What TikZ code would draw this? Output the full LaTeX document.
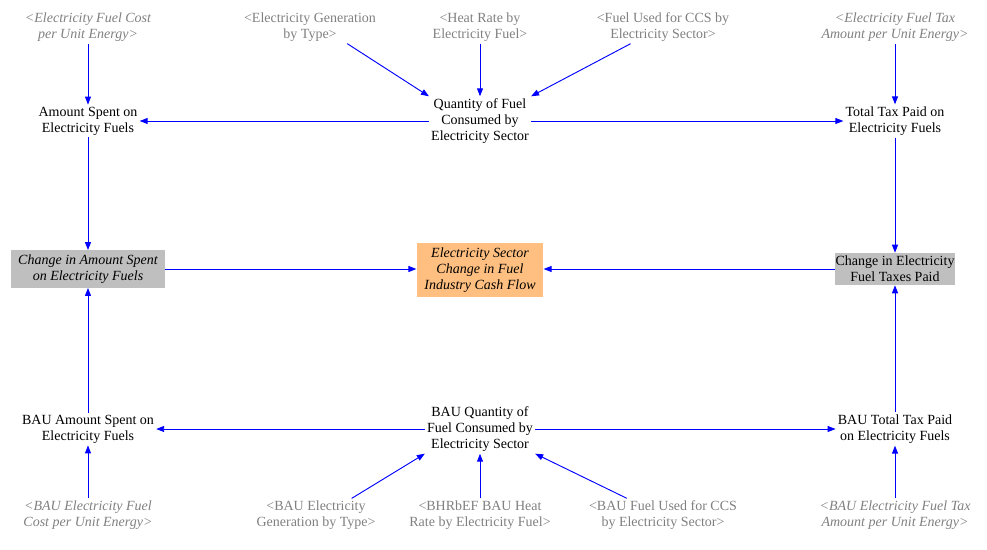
\documentclass[tikz,border=0pt]{standalone}
\usepackage{fontspec}
\setmainfont{Liberation Serif}
\usetikzlibrary{arrows.meta, positioning}

\begin{document}
\begin{tikzpicture}[x=0.75pt, y=-0.75pt,
    font=\fontsize{10.5}{12}\selectfont,
    var/.style={align=center, inner sep=1.5pt},
    shadow/.style={align=center, inner sep=1.5pt, text=black!50},
    box/.style={align=center, inner sep=0.5pt, fill=black!25},
    link/.style={-{Triangle[length=6pt, width=4.5pt]}, blue, line width=0.7pt}]
        \useasboundingbox (0,0) rectangle (987,549);

        % Nodes
        \node (ecost) [shadow, font=\fontsize{10.5}{12}\selectfont\itshape] at (88,27) {<Electricity Fuel Cost\\per Unit Energy>};
        \node (egen) [shadow] at (310,27) {<Electricity Generation\\by Type>};
        \node (hr) [shadow] at (480,27) {<Heat Rate by\\Electricity Fuel>};
        \node (ccs) [shadow] at (663,27) {<Fuel Used for CCS by\\Electricity Sector>};
        \node (etax) [shadow, font=\fontsize{10.5}{12}\selectfont\itshape] at (895,27) {<Electricity Fuel Tax\\Amount per Unit Energy>};

        \node (amt) [var] at (88,121) {Amount Spent on\\Electricity Fuels};
        \node (qty) [var] at (480,121) {Quantity of Fuel\\Consumed by\\Electricity Sector};
        \node (tax) [var] at (895,121) {Total Tax Paid on\\Electricity Fuels};

        \node (damt) [box, minimum width=115pt, minimum height=28pt, font=\fontsize{10.5}{12}\selectfont\itshape] at (88,269) {Change in Amount Spent\\on Electricity Fuels};
        \node (cash) [box, fill=orange!50, minimum width=95pt, minimum height=40pt, font=\fontsize{10.5}{12}\selectfont\itshape] at (480,270) {Electricity Sector\\Change in Fuel\\Industry Cash Flow};
        \node (dtax) [box, minimum width=87pt, minimum height=24pt] at (895,269) {Change in Electricity\\Fuel Taxes Paid};

        \node (bamt) [var] at (88,429) {BAU Amount Spent on\\Electricity Fuels};
        \node (bqty) [var] at (480,429) {BAU Quantity of\\Fuel Consumed by\\Electricity Sector};
        \node (btax) [var] at (895,429) {BAU Total Tax Paid\\on Electricity Fuels};

        \node (bcost) [shadow, font=\fontsize{10.5}{12}\selectfont\itshape] at (88,515) {<BAU Electricity Fuel\\Cost per Unit Energy>};
        \node (bgen) [shadow] at (316,515) {<BAU Electricity\\Generation by Type>};
        \node (bhr) [shadow] at (480,515) {<BHRbEF BAU Heat\\Rate by Electricity Fuel>};
        \node (bccs) [shadow] at (663,515) {<BAU Fuel Used for CCS\\by Electricity Sector>};
        \node (btaxu) [shadow, font=\fontsize{10.5}{12}\selectfont\itshape] at (895,515) {<BAU Electricity Fuel Tax\\Amount per Unit Energy>};

        % Edges
        \draw[link] (ecost) -- (amt);
        \draw[link] (etax) -- (tax);
        \draw[link] (egen.south east) ++(-31,0) -- (qty.north west);
        \draw[link] (hr) -- (qty);
        \draw[link] (ccs.south west) ++(36,0) -- (qty.north east);
        \draw[link] (qty) -- (amt);
        \draw[link] (qty) -- (tax);
        \draw[link] (amt) -- (damt);
        \draw[link] (tax) -- (dtax);
        \draw[link] (damt.east) -- (cash.west |- damt.east);
        \draw[link] (dtax.west) -- (cash.east |- dtax.west);
        \draw[link] (bamt) -- (damt);
        \draw[link] (btax) -- (dtax);
        \draw[link] (bqty) -- (bamt);
        \draw[link] (bqty) -- (btax);
        \draw[link] (bcost) -- (bamt);
        \draw[link] (btaxu) -- (btax);
        \draw[link] (bgen.north east) ++(-26,0) -- (bqty.south west);
        \draw[link] (bhr) -- (bqty);
        \draw[link] (bccs.north west) ++(40,0) -- (bqty.south east);
    \end{tikzpicture}
\end{document}
